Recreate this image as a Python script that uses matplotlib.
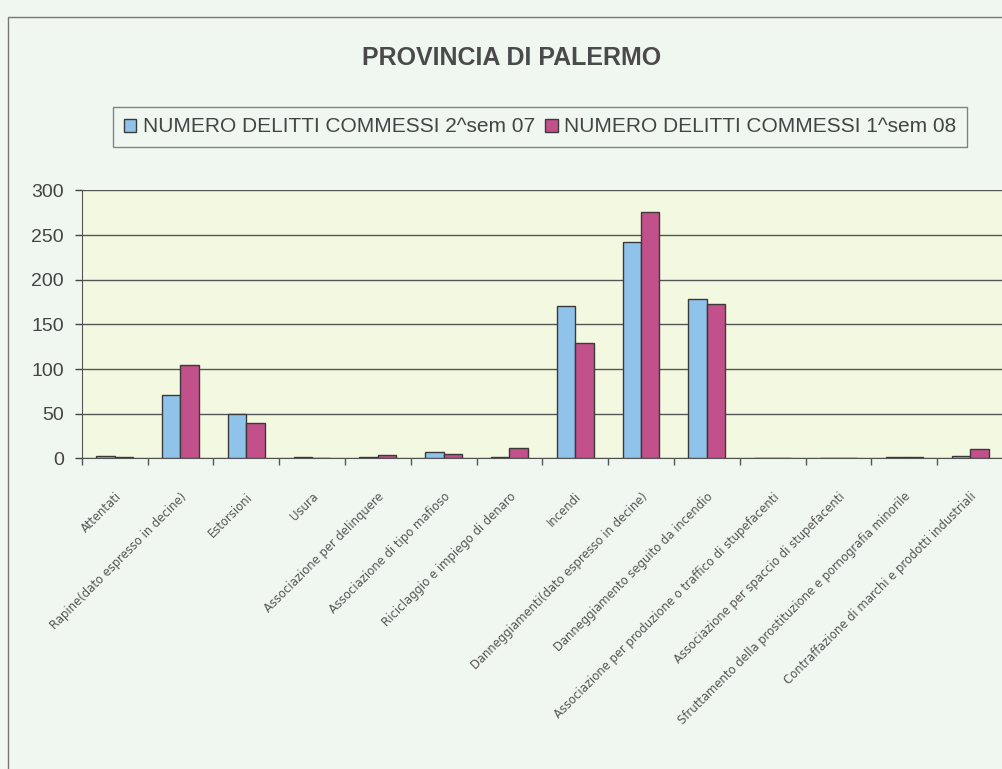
import matplotlib
matplotlib.use("Agg")
import matplotlib.pyplot as plt
import numpy as np
from matplotlib.patches import Rectangle
from matplotlib import font_manager

categories = [
    "Attentati",
    "Rapine(dato espresso in decine)",
    "Estorsioni",
    "Usura",
    "Associazione per delinquere",
    "Associazione di tipo mafioso",
    "Riciclaggio e impiego di denaro",
    "Incendi",
    "Danneggiamenti(dato espresso in decine)",
    "Danneggiamento seguito da incendio",
    "Associazione per produzione o traffico di stupefacenti",
    "Associazione per spaccio di stupefacenti",
    "Sfruttamento della prostituzione e pornografia minorile",
    "Contraffazione di marchi e prodotti industriali",
]
sem2_07 = [3, 71, 50, 1, 1, 7, 1, 171, 242, 178, 0, 0, 2, 3]
sem1_08 = [1, 105, 39, 0, 4, 5, 11, 129, 276, 173, 0, 0, 1, 10]
series_labels = ["NUMERO DELITTI COMMESSI 2^sem 07", "NUMERO DELITTI COMMESSI 1^sem 08"]
yticks = [0, 50, 100, 150, 200, 250, 300]

names = {f.name for f in font_manager.fontManager.ttflist}
stretches = {(f.name, f.stretch) for f in font_manager.fontManager.ttflist}
if "Liberation Sans Narrow" in names:
    xl_family, xl_stretch = "Liberation Sans Narrow", "normal"
elif any(n == "DejaVu Sans" and s == "condensed" for n, s in stretches):
    xl_family, xl_stretch = "DejaVu Sans", "condensed"
else:
    xl_family, xl_stretch = "Liberation Sans", "normal"

W, H = 1002, 769
fig = plt.figure(figsize=(W / 100, H / 100), dpi=100)
fig.patch.set_facecolor("#f0f7f1")

# outer chart border
fig.patches.append(Rectangle((8 / W, -0.1), 1.2, 1 - 17 / H + 0.1, transform=fig.transFigure,
                             facecolor="none", edgecolor="#777777", lw=1.0))

ax = fig.add_axes([81.7 / W, 1 - 458.3 / H, (1003 - 81.7) / W, (458.3 - 190.4) / H])
ax.set_facecolor("#f3f8e0")

x = np.arange(len(categories))
bw = 0.28
ax.bar(x - bw / 2, sem2_07, width=bw, color="#8fc3ea", edgecolor="#3a3a3a", lw=1.0,
       label=series_labels[0], zorder=3)
ax.bar(x + bw / 2, sem1_08, width=bw, color="#c2508b", edgecolor="#3a3a3a", lw=1.0,
       label=series_labels[1], zorder=3)

ax.set_xlim(-0.5, len(categories) - 0.5)
ax.set_ylim(0, 300)
ax.set_yticks(yticks)
ax.yaxis.grid(True, color="#555555", lw=1.0, zorder=1)
ax.tick_params(axis="y", labelsize=14, colors="#444444", length=5, width=1, pad=8)
for t in ax.get_yticklabels():
    t.set_color("#444444")
    t.set_family("Liberation Sans")

ax.set_xticks(np.arange(len(categories) + 1) - 0.5, minor=False)
ax.set_xticklabels([])
ax.set_xticks(x, minor=True)
ax.set_xticklabels(categories, minor=True, rotation=45, ha="right", rotation_mode="anchor",
                   fontsize=9.3, color="#555555", family=xl_family, fontstretch=xl_stretch)
ax.tick_params(axis="x", which="minor", length=0, pad=23)
ax.tick_params(axis="x", which="major", length=5, width=1, color="#555555")

for s in ["top", "right"]:
    ax.spines[s].set_visible(False)
ax.spines["left"].set_color("#555555")
ax.spines["bottom"].set_color("#555555")

fig.text(512 / W, 1 - 58 / H, "PROVINCIA DI PALERMO", ha="center", va="center",
         fontsize=18, fontweight="bold", color="#4a4a4a", family="Liberation Sans")

leg = fig.legend(loc="center", bbox_to_anchor=(540 / W, 1 - 127 / H), ncol=2,
                 frameon=True, fancybox=False, edgecolor="#666666",
                 facecolor="#f0f7f1", handlelength=0.6, handleheight=0.6,
                 handletextpad=0.3, columnspacing=0.5, borderpad=0.5,
                 prop={"family": "Liberation Sans", "size": 15})
for t in leg.get_texts():
    t.set_color("#444444")
leg.get_frame().set_linewidth(1.0)

fig.savefig("out.png", dpi=100, facecolor=fig.get_facecolor())
